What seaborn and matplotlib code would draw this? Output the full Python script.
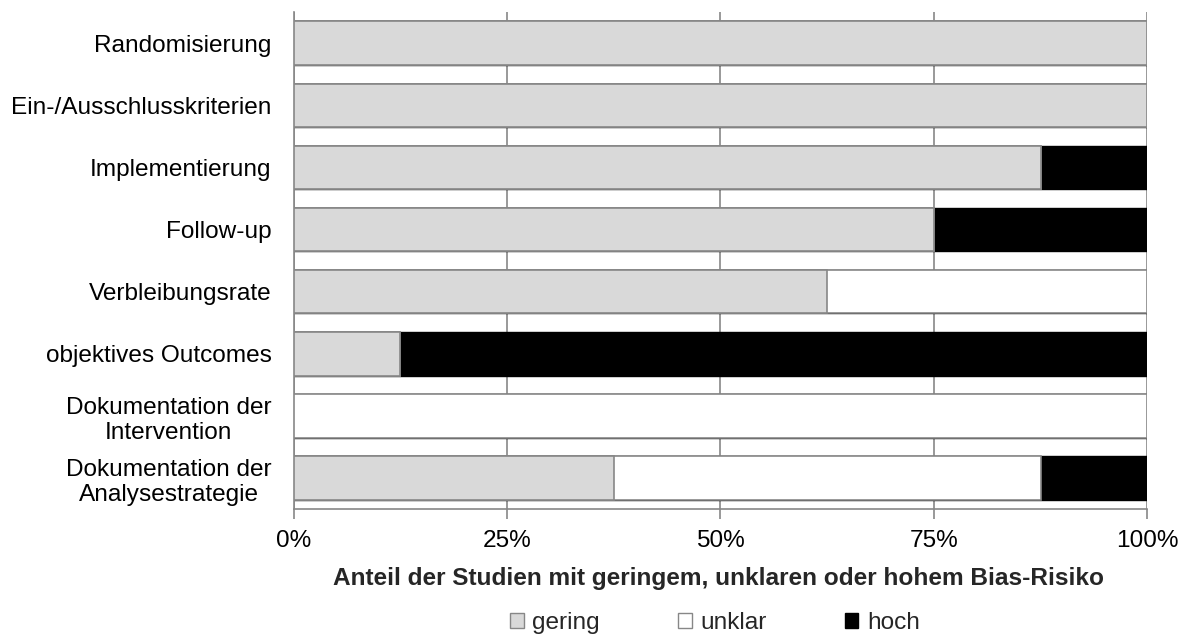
import pandas as pd
import seaborn as sns
import matplotlib.pyplot as plt
from matplotlib.patches import Patch

# Risk-of-bias shares per criterion (8 studies -> steps of 12.5 %)
categories = [
    "Randomisierung",
    "Ein-/Ausschlusskriterien",
    "Implementierung",
    "Follow-up",
    "Verbleibungsrate",
    "objektives Outcomes",
    "Dokumentation der\nIntervention",
    "Dokumentation der\nAnalysestrategie",
]
gering = [100, 100, 87.5, 75, 62.5, 12.5, 0, 37.5]
unklar = [0, 0, 0, 0, 37.5, 0, 100, 50]
hoch = [0, 0, 12.5, 25, 0, 87.5, 0, 12.5]

df = pd.DataFrame({"kriterium": categories, "gering": gering,
                   "unklar": unklar, "hoch": hoch})
df["c_gering"] = df["gering"]
df["c_unklar"] = df["gering"] + df["unklar"]
df["c_hoch"] = df["gering"] + df["unklar"] + df["hoch"]

sns.set_theme(style="white")
plt.rcParams["font.family"] = ["Liberation Sans", "DejaVu Sans"]

grey = "#878787"
col_gering = "#D9D9D9"
col_unklar = "#FFFFFF"
col_hoch = "#000000"
fs = 17.6

fig = plt.figure(figsize=(11.84, 6.35), dpi=100)
ax = fig.add_axes([0.248, 0.198, 0.721, 0.783])

# stacked bars by overlaying cumulative totals
sns.barplot(data=df, y="kriterium", x="c_hoch", color=col_hoch, saturation=1,
            width=0.7, edgecolor=col_hoch, linewidth=1.0, ax=ax, zorder=2)
sns.barplot(data=df, y="kriterium", x="c_unklar", color=col_unklar, saturation=1,
            width=0.7, edgecolor=grey, linewidth=1.2, ax=ax, zorder=3)
sns.barplot(data=df[df["gering"] > 0], y="kriterium", x="c_gering", color=col_gering,
            saturation=1, width=0.7, edgecolor=grey, linewidth=1.2, ax=ax,
            order=categories, zorder=4)

ax.set_xlim(0, 100)
ax.set_ylim(7.5, -0.5)
ax.set_xticks([0, 25, 50, 75, 100])
ax.set_xticklabels(["0%", "25%", "50%", "75%", "100%"])
ax.xaxis.grid(True, color=grey, linewidth=1.2, zorder=0)
ax.set_axisbelow(True)

for side in ["top", "right"]:
    ax.spines[side].set_visible(False)
for side in ["left", "bottom"]:
    ax.spines[side].set_color(grey)
    ax.spines[side].set_linewidth(1.2)

# y ticks between categories, x ticks pointing down
ax.set_yticks([i - 0.5 for i in range(9)], minor=True)
ax.tick_params(axis="y", which="major", length=0, labelsize=fs, pad=16, colors="#000000")
ax.tick_params(axis="y", which="minor", length=7, width=1.2, color=grey, direction="out")
ax.tick_params(axis="x", which="major", length=7, width=1.2, color=grey, direction="out",
               bottom=True, labelsize=fs, pad=8, labelcolor="#000000")
for lab in ax.get_yticklabels():
    lab.set_multialignment("center")

ax.set_xlabel("")
ax.set_ylabel("")

fig.text(0.607, 0.089, "Anteil der Studien mit geringem, unklaren oder hohem Bias-Risiko",
         ha="center", va="center", fontsize=fs, fontweight="bold")

handles = [Patch(facecolor=col_gering, edgecolor=grey, linewidth=1.0),
           Patch(facecolor=col_unklar, edgecolor=grey, linewidth=1.0),
           Patch(facecolor=col_hoch, edgecolor=col_hoch, linewidth=1.0)]
fig.legend(handles, ["gering", "unklar", "hoch"], loc="center", ncol=3,
           bbox_to_anchor=(0.604, 0.019), frameon=False, fontsize=fs,
           handlelength=0.55, handleheight=0.55, handletextpad=0.35, columnspacing=3.2)

fig.savefig("out.png", dpi=100)
